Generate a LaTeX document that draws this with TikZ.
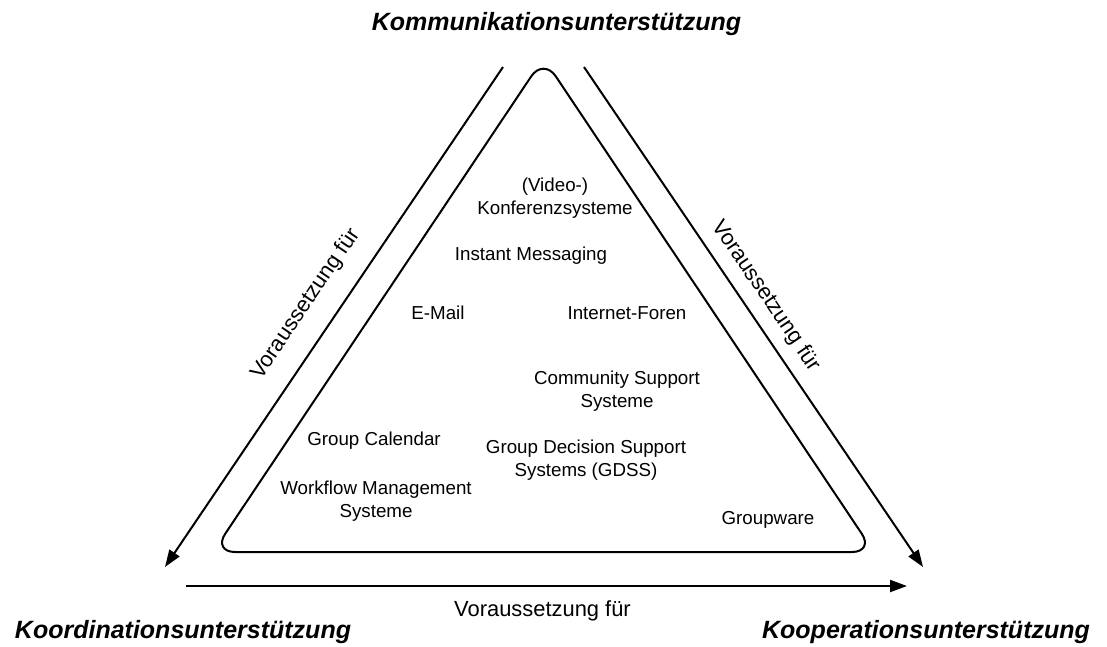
\documentclass[tikz,border=0pt]{standalone}
\usepackage{fontspec}
\setmainfont{Liberation Sans}
\usetikzlibrary{arrows.meta}
\begin{document}
\begin{tikzpicture}[x=1pt,y=-1pt,
  item/.style={font=\fontsize{18.75}{23}\selectfont, align=center, inner sep=0pt},
  edgelabel/.style={font=\fontsize{21.9}{26}\selectfont, inner sep=0pt},
  corner/.style={font=\fontsize{25}{30}\selectfont\bfseries\itshape, inner sep=0pt},
  dep/.style={line width=2pt, -{Triangle[length=17pt,width=12pt]}},
]
\useasboundingbox (0,0) rectangle (1107,646);

% the three kinds of support at the corners
\node[corner] (komm) at (556.5,24.5) {Kommunikationsunterstützung};
\node[corner] (koord) at (183,632) {Koordinationsunterstützung};
\node[corner] (koop) at (926,632) {Kooperationsunterstützung};

% rounded triangle holding the system types
\draw[line width=2pt, rounded corners=22pt]
  (543.5,58) -- (874,552) -- (213,552) -- cycle;

% end points of the dependency arrows
\coordinate (lS) at (503,67);
\coordinate (lE) at (165,567);
\coordinate (rS) at (584,67);
\coordinate (rE) at (923,567);
\coordinate (bS) at (186,586);
\coordinate (bE) at (907,586);

\draw[dep] (lS) -- (lE);
\draw[dep] (rS) -- (rE);
\draw[dep] (bS) -- (bE);

\node[edgelabel, rotate=55.9] (lLab) at (306,304) {Voraussetzung für};
\node[edgelabel, rotate=-55.9] (rLab) at (766,296) {Voraussetzung für};
\node[edgelabel] (bLab) at (542.5,611) {Voraussetzung für};

% system types
\node[item] (video) at (555,198) {(Video-)\\Konferenzsysteme};
\node[item] (im) at (531,256) {Instant Messaging};
\node[item] (mail) at (438,313) {E-Mail};
\node[item] (foren) at (627,313) {Internet-Foren};
\node[item] (css) at (617,391) {Community Support\\Systeme};
\node[item] (cal) at (374,441) {Group Calendar};
\node[item] (gdss) at (586,460) {Group Decision Support\\Systems (GDSS)};
\node[item] (wfm) at (376,501) {Workflow Management\\Systeme};
\node[item] (gw) at (768,520) {Groupware};
\end{tikzpicture}
\end{document}
